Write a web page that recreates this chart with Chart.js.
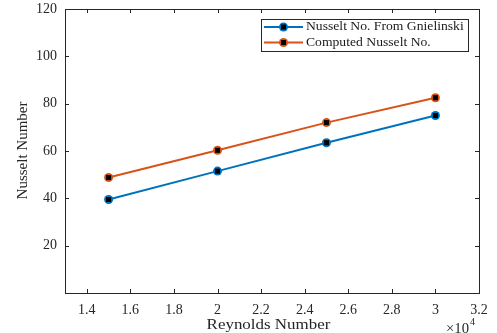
<!DOCTYPE html>
<html>
<head>
<meta charset="utf-8">
<script src="https://cdn.jsdelivr.net/npm/chart.js@4.4.0/dist/chart.umd.min.js"></script>
<style>
  html, body { margin: 0; padding: 0; background: #fff; }
  canvas { display: block; }
</style>
</head>
<body>
<canvas id="nuChart" width="497" height="333"></canvas>
<script>
// Reynolds number vs Nusselt number
const reynolds = [15000, 20000, 25000, 30000];
const nuGnielinski = [39.5, 51.5, 63.5, 75];
const nuComputed = [48.8, 60.3, 72, 82.5];
const seriesNames = ['Nusselt No. From Gnielinski', 'Computed Nusselt No.'];
const xTicks = [14000, 16000, 18000, 20000, 22000, 24000, 26000, 28000, 30000, 32000];
const yTicks = [20, 40, 60, 80, 100, 120];

const BLUE = '#0072BD';
const ORANGE = '#D95319';
const AXIS = '#262626';
const FONT = '"Liberation Serif", "Times New Roman", serif';

// text a little wider than the font, like the reference image
function wideText(ctx, txt, x, y, sx) {
    ctx.save();
    ctx.translate(x, y);
    ctx.scale(sx, 1);
    ctx.fillText(txt, 0, 0);
    ctx.restore();
}

// MATLAB-ish box, inward ticks, square markers, axis titles, legend
const matlabLook = {
    id: 'matlabLook',
    afterDatasetsDraw(chart) {
        const ctx = chart.ctx;
        const a = chart.chartArea;
        const xs = chart.scales.x, ys = chart.scales.y;
        ctx.save();

        // black squares inside markers
        ctx.fillStyle = '#000';
        chart.data.datasets.forEach((ds, i) => {
            chart.getDatasetMeta(i).data.forEach(pt => {
                ctx.fillRect(pt.x - 2.5, pt.y - 2.5, 5, 5);
            });
        });

        // box + ticks
        ctx.strokeStyle = AXIS;
        ctx.lineWidth = 1;
        ctx.strokeRect(a.left + 0.5, a.top + 0.5, a.right - a.left, a.bottom - a.top);
        ctx.beginPath();
        xTicks.forEach(v => {
            const x = Math.round(xs.getPixelForValue(v)) + 0.5;
            ctx.moveTo(x, a.bottom); ctx.lineTo(x, a.bottom - 4);
            ctx.moveTo(x, a.top); ctx.lineTo(x, a.top + 4);
        });
        yTicks.forEach(v => {
            const y = Math.round(ys.getPixelForValue(v)) + 0.5;
            ctx.moveTo(a.left, y); ctx.lineTo(a.left + 4, y);
            ctx.moveTo(a.right, y); ctx.lineTo(a.right - 4, y);
        });
        ctx.stroke();

        // axis titles
        ctx.fillStyle = AXIS;
        ctx.font = '15px ' + FONT;
        ctx.textAlign = 'center';
        ctx.textBaseline = 'middle';
        wideText(ctx, 'Reynolds Number', 268.5, 325, 1.13);
        ctx.save();
        ctx.translate(23, 150.5);
        ctx.rotate(-Math.PI / 2);
        ctx.fillText('Nusselt Number', 0, 0);
        ctx.restore();

        // exponent label
        ctx.textAlign = 'left';
        ctx.font = '14px ' + FONT;
        wideText(ctx, '\u00d710', 446, 329, 1.05);
        ctx.font = '10px ' + FONT;
        ctx.fillText('4', 470, 322);

        // legend
        const lx = 261, ly = 19, lw = 207, lh = 32;
        ctx.fillStyle = '#fff';
        ctx.fillRect(lx, ly, lw, lh);
        ctx.strokeStyle = AXIS;
        ctx.strokeRect(lx + 0.5, ly + 0.5, lw, lh);
        const colors = [BLUE, ORANGE];
        seriesNames.forEach((name, i) => {
            const y = ly + 8 + i * 15.5;
            ctx.strokeStyle = colors[i];
            ctx.lineWidth = 2;
            ctx.beginPath();
            ctx.moveTo(264, y); ctx.lineTo(303, y);
            ctx.stroke();
            ctx.fillStyle = colors[i];
            ctx.beginPath();
            ctx.arc(283.5, y, 4.5, 0, Math.PI * 2);
            ctx.fill();
            ctx.fillStyle = '#000';
            ctx.fillRect(281, y - 2.5, 5, 5);
            ctx.fillStyle = '#1a1a1a';
            ctx.font = '13px ' + FONT;
            ctx.textAlign = 'left';
            wideText(ctx, name, 306, y, 1.05);
        });
        ctx.restore();
    }
};

const toPoints = ys => reynolds.map((x, i) => ({ x: x, y: ys[i] }));

new Chart(document.getElementById('nuChart').getContext('2d'), {
    type: 'line',
    data: {
        datasets: [
            { label: seriesNames[0], data: toPoints(nuGnielinski), borderColor: BLUE, backgroundColor: BLUE,
              borderWidth: 2, pointRadius: 4.5, pointBorderWidth: 0, pointBackgroundColor: BLUE },
            { label: seriesNames[1], data: toPoints(nuComputed), borderColor: ORANGE, backgroundColor: ORANGE,
              borderWidth: 2, pointRadius: 4.5, pointBorderWidth: 0, pointBackgroundColor: ORANGE }
        ]
    },
    options: {
        responsive: false,
        animation: false,
        layout: { padding: { top: 9, right: 18, left: 0, bottom: 0 } },
        plugins: { legend: { display: false }, tooltip: { enabled: false } },
        scales: {
            x: {
                type: 'linear', min: 13000, max: 32000,
                afterBuildTicks: s => { s.ticks = xTicks.map(v => ({ value: v })); },
                afterFit: s => { s.height = 40; s.paddingLeft = 0; s.paddingRight = 0; },
                grid: { display: false, drawTicks: false },
                border: { display: false },
                ticks: { color: AXIS, padding: 9, maxRotation: 0, autoSkip: false,
                         font: { family: FONT, size: 14 },
                         callback: v => String(+(v / 10000).toFixed(1)) }
            },
            y: {
                min: 0, max: 120,
                afterBuildTicks: s => { s.ticks = yTicks.map(v => ({ value: v })); },
                afterFit: s => { s.width = 65; s.paddingTop = 0; s.paddingBottom = 0; },
                grid: { display: false, drawTicks: false },
                border: { display: false },
                ticks: { color: AXIS, padding: 8, font: { family: FONT, size: 14 } }
            }
        }
    },
    plugins: [matlabLook]
});
</script>
</body>
</html>
